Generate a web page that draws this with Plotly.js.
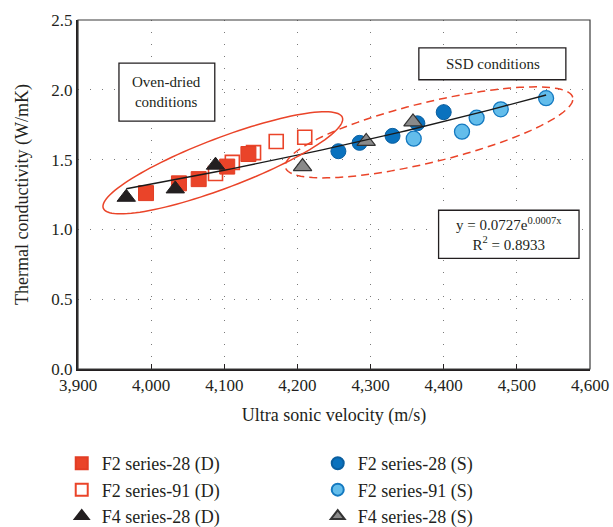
<!DOCTYPE html>
<html>
<head>
<meta charset="utf-8">
<script src="https://cdn.plot.ly/plotly-3.0.1.min.js"></script>
<style>html,body{margin:0;padding:0;background:#fff}#chart{width:613px;height:527px}</style>
</head>
<body>
<div id="chart"></div>
<script>
// ---- data ----
const f2s28D_x = [3993, 4038, 4065, 4104, 4133];
const f2s28D_y = [1.26, 1.33, 1.36, 1.45, 1.54];
const f2s91D_x = [4088, 4111, 4140, 4171, 4210];
const f2s91D_y = [1.40, 1.48, 1.55, 1.63, 1.66];
const f4s28D_x = [3966, 4033, 4088];
const f4s28D_y = [1.23, 1.29, 1.46];
const f2s28S_x = [4256, 4285, 4330, 4364, 4400];
const f2s28S_y = [1.56, 1.62, 1.67, 1.76, 1.84];
const f2s91S_x = [4359, 4425, 4445, 4478, 4540];
const f2s91S_y = [1.65, 1.70, 1.80, 1.86, 1.94];
const f4s28S_x = [4207, 4294, 4358];
const f4s28S_y = [1.45, 1.63, 1.77];
const seriesNames = ["F2 series-28 (D)", "F2 series-91 (D)", "F4 series-28 (D)",
                     "F2 series-28 (S)", "F2 series-91 (S)", "F4 series-28 (S)"];
const xTickVals = [3900, 4000, 4100, 4200, 4300, 4400, 4500, 4600];
const yTickVals = [0.0, 0.5, 1.0, 1.5, 2.0, 2.5];
const eqText = "y = 0.0727e<sup>0.0007x</sup><br>R<sup>2</sup> = 0.8933";

// ---- exponential trendline (least squares on ln y, all points) ----
const allX = [].concat(f2s28D_x, f2s91D_x, f4s28D_x, f2s28S_x, f2s91S_x, f4s28S_x);
const allY = [].concat(f2s28D_y, f2s91D_y, f4s28D_y, f2s28S_y, f2s91S_y, f4s28S_y);
const n = allX.length;
let sx=0, sy=0, sxx=0, sxy=0;
for (let i=0;i<n;i++){ const ly=Math.log(allY[i]); sx+=allX[i]; sy+=ly; sxx+=allX[i]*allX[i]; sxy+=allX[i]*ly; }
const bFit = (n*sxy - sx*sy)/(n*sxx - sx*sx);
const aFit = Math.exp((sy - bFit*sx)/n);
const xMin = Math.min.apply(null, allX), xMax = Math.max.apply(null, allX);
const trendX = [], trendY = [];
for (let k=0;k<=60;k++){ const x = xMin + (xMax-xMin)*k/60; trendX.push(x); trendY.push(aFit*Math.exp(bFit*x)); }

// ---- styling ----
const FONT = '"Liberation Serif", "Times New Roman", serif';
const TXT = '#231F20';
const RED = '#EA4429';
const XR = [3900, 4600], YR = [0, 2.5];
const M = {l: 77.5, r: 23, t: 19.5, b: 158};
const PW = 613 - M.l - M.r, PH = 527 - M.t - M.b;

// ellipse defined in pixel units relative to the plot, converted to data space
function ellipsePath(cxData, cyData, aPx, bPx, angDeg){
  const cxp = (cxData - XR[0]) / (XR[1]-XR[0]) * PW;
  const cyp = (cyData - YR[0]) / (YR[1]-YR[0]) * PH;
  const t = angDeg*Math.PI/180;
  let d = '';
  for (let k=0;k<=120;k++){
    const u = 2*Math.PI*k/120;
    const px = cxp + aPx*Math.cos(u)*Math.cos(t) - bPx*Math.sin(u)*Math.sin(t);
    const py = cyp + aPx*Math.cos(u)*Math.sin(t) + bPx*Math.sin(u)*Math.cos(t);
    const dx = XR[0] + px/PW*(XR[1]-XR[0]);
    const dy = YR[0] + py/PH*(YR[1]-YR[0]);
    d += (k===0?'M':'L') + dx.toFixed(3) + ',' + dy.toFixed(4) + ' ';
  }
  return d + 'Z';
}

const mk = (sym, size, fill, lineCol, lw) => ({symbol: sym, size: size, color: fill, line: {color: lineCol, width: lw}});
const traces = [
  {x: f2s91D_x, y: f2s91D_y, name: seriesNames[1], legendrank: 3, mode: 'markers', type: 'scatter', marker: mk('square', 14, '#FFFFFF', RED, 1.6)},
  {x: f2s28D_x, y: f2s28D_y, name: seriesNames[0], legendrank: 1, mode: 'markers', type: 'scatter', marker: mk('square', 15, RED, '#E23D24', 1)},
  {x: f2s28S_x, y: f2s28S_y, name: seriesNames[3], legendrank: 2, mode: 'markers', type: 'scatter', marker: mk('circle', 15, '#0A72BE', '#0A5FA0', 1)},
  {x: f2s91S_x, y: f2s91S_y, name: seriesNames[4], legendrank: 4, mode: 'markers', type: 'scatter', marker: mk('circle', 15, '#63BDEB', '#1479C0', 1.3)},
  {x: f4s28D_x, y: f4s28D_y, name: seriesNames[2], legendrank: 5, mode: 'markers', type: 'scatter', marker: mk('triangle-up', 16, '#231F20', '#231F20', 1)},
  {x: f4s28S_x, y: f4s28S_y, name: seriesNames[5], legendrank: 6, mode: 'markers', type: 'scatter', marker: mk('triangle-up', 16, '#8A8A8A', '#333333', 1.2)},
  {x: trendX, y: trendY, mode: 'lines', type: 'scatter', showlegend: false, hoverinfo: 'skip', line: {color: '#1A1A1A', width: 1.4}}
];

const layout = {
  width: 613, height: 527,
  margin: M,
  paper_bgcolor: '#fff', plot_bgcolor: '#fff',
  font: {family: FONT, color: TXT, size: 17},
  showlegend: true,
  xaxis: {
    range: XR, tickvals: xTickVals, tickformat: ',d', ticks: 'inside', ticklen: 5, tickcolor: TXT, tickwidth: 1.2,
    showline: true, linecolor: TXT, linewidth: 2, zeroline: false, automargin: false,
    showgrid: true, gridcolor: '#7a7a7a', gridwidth: 1, griddash: '1px,11px',
    tickfont: {size: 17, family: FONT, color: TXT},
    title: {text: 'Ultra sonic velocity (m/s)', font: {size: 18, family: FONT, color: TXT}, standoff: 14}
  },
  yaxis: {
    range: YR, tickvals: yTickVals, tickformat: '.1f', ticks: '', automargin: false,
    showline: true, linecolor: TXT, linewidth: 2, zeroline: false,
    showgrid: true, gridcolor: '#7a7a7a', gridwidth: 1, griddash: '1px,11px',
    tickfont: {size: 17, family: FONT, color: TXT},
    title: {text: 'Thermal conductivity (W/mK)', font: {size: 18, family: FONT, color: TXT}, standoff: 18}
  },
  legend: {
    orientation: 'h', xref: 'container', x: 0.1007, xanchor: 'left', yref: 'container', y: 0.1555, yanchor: 'top',
    entrywidth: 211, entrywidthmode: 'pixels', itemsizing: 'constant',
    font: {size: 18, family: FONT, color: TXT}, bgcolor: 'rgba(0,0,0,0)', traceorder: 'normal'
  },
  shapes: [
    // plot frame (top/right)
    {type: 'rect', xref: 'paper', yref: 'paper', x0: 0, x1: 1, y0: 0, y1: 1, line: {color: '#3a3a3a', width: 1.2}, layer: 'above'},
    // ellipses
    {type: 'path', xref: 'x', yref: 'y', path: ellipsePath(4098, 1.477, 128, 25, 20.8), line: {color: RED, width: 1.5}},
    {type: 'path', xref: 'x', yref: 'y', path: ellipsePath(4380, 1.695, 148, 30, 13.7), line: {color: RED, width: 1.5, dash: '8px,5px'}},
    // annotation boxes
    {type: 'rect', xref: 'x', yref: 'y', x0: 3956, x1: 4087, y0: 1.776, y1: 2.191, line: {color: TXT, width: 1.3}, fillcolor: '#fff', layer: 'above'},
    {type: 'rect', xref: 'x', yref: 'y', x0: 4366, x1: 4567, y0: 2.072, y1: 2.301, line: {color: TXT, width: 1.3}, fillcolor: '#fff', layer: 'above'},
    {type: 'rect', xref: 'x', yref: 'y', x0: 4393, x1: 4585, y0: 0.792, y1: 1.137, line: {color: TXT, width: 1.3}, fillcolor: '#fff', layer: 'above'}
  ],
  annotations: [
    {xref: 'x', yref: 'y', x: 4021, y: 1.985, text: 'Oven-dried<br>conditions', showarrow: false, font: {size: 15, family: FONT, color: TXT}},
    {xref: 'x', yref: 'y', x: 4467, y: 2.187, text: 'SSD conditions', showarrow: false, font: {size: 15, family: FONT, color: TXT}},
    {xref: 'x', yref: 'y', x: 4489, y: 0.966, text: eqText, showarrow: false, font: {size: 15, family: FONT, color: TXT}}
  ]
};

Plotly.newPlot('chart', traces, layout, {displayModeBar: false, staticPlot: true});
</script>
</body>
</html>
